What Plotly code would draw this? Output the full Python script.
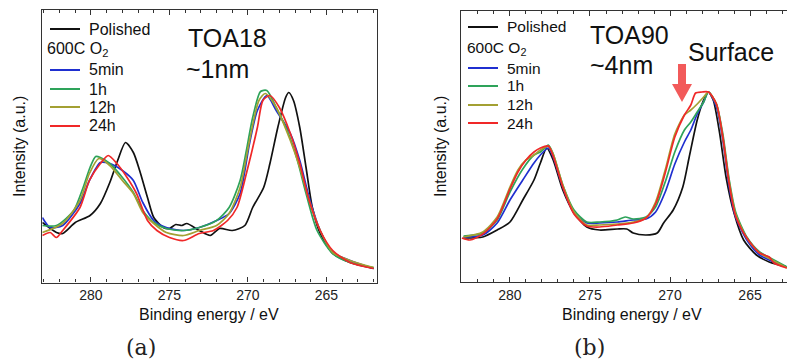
import plotly.graph_objects as go

# ---------------- (a) TOA18 (~1 nm) ----------------
a_pol_e = [283.1, 282.2, 281.8, 281.0, 280.06, 279.4, 278.8, 278.3, 277.8, 277.3, 276.9, 276.4, 276.0,
           275.4, 275.0, 274.6, 274.2, 273.9, 273.1, 272.4, 271.8, 271.0, 270.2, 269.7, 269.0, 268.6,
           268.1, 267.6, 267.4, 267.1, 266.7, 266.3, 265.9, 265.4, 264.6, 263.5, 262.0]
a_pol_i = [60, 50, 49, 60, 67, 79, 100, 122, 140, 130, 112, 85, 65,
           55, 54, 58, 57, 59, 52, 47, 54, 52, 57, 75, 95, 119,
           155, 185, 190, 182, 155, 115, 75, 49, 29, 20, 14]

a_5min_e = [283.1, 282.6, 281.8, 280.7, 280.1, 279.4, 278.8, 278.0, 277.3, 276.7, 276.0, 275.2, 274.1,
            273.1, 272.0, 271.2, 270.5, 269.9, 269.4, 268.8, 268.2, 267.3, 266.7, 266.1, 265.4, 264.6,
            263.5, 262.0]
a_5min_i = [65, 55, 57, 79, 102, 120, 119, 112, 102, 80, 62, 55, 52,
            55, 62, 69, 89, 139, 172, 187, 172, 149, 122, 85, 52, 30,
            22, 14]

a_1h_e = [283.1, 282.2, 281.1, 280.5, 280.06, 279.7, 279.4, 278.8, 278.0, 277.3, 276.7, 276.0, 275.2,
          274.1, 273.1, 272.0, 271.2, 270.5, 270.1, 269.7, 269.2, 268.8, 268.2, 267.5, 266.9, 266.3,
          265.6, 264.6, 263.5, 262.0]
a_1h_i = [57, 57, 72, 95, 115, 126, 125, 119, 105, 90, 72, 60, 54,
          52, 55, 62, 75, 102, 132, 165, 191, 192, 175, 152, 125, 89,
          52, 29, 20, 15]

a_12h_e = [283.1, 281.8, 280.7, 280.1, 279.5, 278.8, 278.0, 277.3, 276.7, 276.0, 275.2, 274.1, 273.1,
           272.0, 271.2, 270.5, 269.9, 269.3, 268.9, 268.2, 267.3, 266.7, 266.1, 265.4, 264.6, 263.5,
           262.0]
a_12h_i = [50, 59, 82, 109, 124, 117, 102, 89, 70, 59, 50, 47, 52,
           57, 69, 95, 142, 182, 189, 175, 142, 115, 82, 52, 30, 22,
           15]

a_24h_e = [283.1, 282.6, 282.2, 281.8, 280.7, 280.1, 279.4, 278.9, 278.35, 277.7, 277.1, 276.4, 275.8,
           275.0, 274.1, 273.1, 272.2, 271.3, 270.7, 270.1, 269.4, 269.05, 268.6, 268.0, 267.3, 266.7,
           266.1, 265.4, 264.6, 263.5, 262.0]
a_24h_i = [47, 50, 45, 52, 75, 102, 119, 127, 119, 105, 89, 62, 52,
           45, 42, 49, 52, 62, 75, 109, 155, 182, 187, 175, 149, 119,
           82, 52, 32, 20, 14]

# ---------------- (b) TOA90 (~4 nm) ----------------
b_pol_e = [282.9, 281.7, 280.8, 280.0, 279.2, 278.5, 278.1, 277.7, 277.3, 276.7, 276.0, 275.2, 274.4,
           273.3, 272.7, 272.3, 271.5, 270.8, 270.4, 269.8, 269.2, 268.8, 268.3, 267.9, 267.6, 267.3,
           266.9, 266.5, 266.0, 265.4, 264.6, 263.8, 262.7]
b_pol_i = [44, 45, 52, 60, 82, 102, 119, 134, 122, 92, 69, 55, 52,
           53, 53, 49, 47, 49, 59, 72, 95, 125, 162, 182, 190, 182,
           149, 105, 69, 42, 27, 20, 15]

b_5min_e = [282.9, 281.7, 280.8, 280.0, 279.2, 278.5, 278.1, 277.6, 277.3, 276.7, 276.0, 275.2, 274.4,
            273.3, 272.3, 271.5, 270.9, 270.3, 269.7, 269.1, 268.7, 268.3, 267.9, 267.6, 267.1, 266.7,
            266.3, 265.9, 265.2, 264.4, 263.5, 262.7]
b_5min_i = [45, 47, 59, 82, 102, 119, 127, 134, 125, 95, 69, 59, 59,
            60, 62, 63, 70, 90, 118, 140, 152, 168, 180, 190, 175, 142,
            95, 65, 42, 27, 20, 15]

b_1h_e = [282.9, 281.7, 280.8, 280.0, 279.2, 278.5, 278.1, 277.6, 277.3, 276.7, 276.0, 275.2, 274.4,
          273.3, 272.8, 272.3, 271.5, 270.9, 270.3, 269.7, 269.1, 268.7, 268.3, 267.9, 267.6, 267.1,
          266.7, 266.3, 265.9, 265.2, 264.4, 263.5, 262.7]
b_1h_i = [46, 49, 62, 90, 113, 127, 130, 137, 128, 97, 72, 60, 60,
          62, 65, 63, 65, 75, 100, 130, 152, 160, 170, 180, 190, 178,
          148, 102, 70, 45, 30, 22, 15]

b_12h_e = [282.9, 281.7, 280.8, 280.0, 279.5, 279.0, 278.5, 278.1, 277.6, 277.3, 276.7, 276.0, 275.2,
           274.4, 273.3, 272.3, 271.5, 270.9, 270.3, 269.7, 269.1, 268.7, 268.3, 267.9, 267.6, 267.1,
           266.7, 266.3, 265.9, 265.2, 264.4, 263.5, 262.7]
b_12h_i = [45, 50, 65, 95, 112, 122, 127, 132, 136, 128, 97, 70, 57,
           57, 58, 60, 64, 80, 112, 148, 167, 172, 178, 185, 190, 178,
           145, 100, 68, 44, 29, 21, 14]

b_24h_e = [283.0, 282.5, 281.7, 280.8, 280.0, 279.5, 279.0, 278.5, 278.1, 277.6, 277.3, 276.7, 276.0,
           275.2, 274.4, 273.3, 272.3, 271.5, 270.9, 270.3, 269.7, 269.1, 268.7, 268.4, 268.0, 267.6,
           267.1, 266.7, 266.3, 265.9, 265.2, 264.4, 263.8, 263.5, 262.7]
b_24h_i = [44, 42, 48, 63, 93, 110, 122, 130, 134, 136, 126, 95, 68,
           56, 55, 57, 59, 64, 78, 109, 145, 167, 177, 189, 190, 190,
           178, 145, 98, 66, 44, 29, 25, 19, 14]

series_names = ["Polished", "5min", "1h", "12h", "24h"]
series_colors = ["#111111", "#1f2fd0", "#2ea35a", "#a3a032", "#f02828"]

panel_a = [(a_pol_e, a_pol_i), (a_5min_e, a_5min_i), (a_1h_e, a_1h_i),
           (a_12h_e, a_12h_i), (a_24h_e, a_24h_i)]
panel_b = [(b_pol_e, b_pol_i), (b_5min_e, b_5min_i), (b_1h_e, b_1h_i),
           (b_12h_e, b_12h_i), (b_24h_e, b_24h_i)]

W, H = 787, 363
FONT = "Liberation Sans, Arial, sans-serif"


def px(x):
    return x / W


def py(y):
    return 1 - y / H


fig = go.Figure()

# draw order: polished first, oxidised spectra on top (red last)
for (e, i), name, col in zip(panel_a, series_names, series_colors):
    fig.add_trace(go.Scatter(x=e, y=i, mode="lines", name=name, showlegend=False,
                             line=dict(color=col, width=1.7, shape="spline", smoothing=0.7),
                             xaxis="x", yaxis="y"))
for (e, i), name, col in zip(panel_b, series_names, series_colors):
    fig.add_trace(go.Scatter(x=e, y=i, mode="lines", name=name, showlegend=False,
                             line=dict(color=col, width=1.7, shape="spline", smoothing=0.7),
                             xaxis="x2", yaxis="y2"))

xaxis_common = dict(
    tickmode="array", tickvals=[280, 275, 270, 265], ticks="inside", ticklen=5,
    tickwidth=1, tickcolor="#333", showline=True, linecolor="#333", linewidth=1.2,
    mirror="allticks", showgrid=False, zeroline=False,
    tickfont=dict(family=FONT, size=14, color="#222"),
    minor=dict(tick0=0, dtick=1, ticks="inside", ticklen=3, tickwidth=1,
               tickcolor="#333", showgrid=False),
)

fig.update_layout(
    width=W, height=H, margin=dict(l=0, r=0, t=0, b=0),
    paper_bgcolor="white", plot_bgcolor="white", showlegend=False,
    xaxis=dict(domain=[px(42.3), px(376.7)], range=[283.1, 261.8], anchor="y", **xaxis_common),
    yaxis=dict(domain=[py(282.5), py(10)], range=[0, 272.5], showticklabels=False, ticks="",
               showline=True, linecolor="#333", linewidth=1.2, mirror=True,
               showgrid=False, zeroline=False, anchor="x"),
    xaxis2=dict(domain=[px(461), 1.0], range=[283.06, 262.69], anchor="y2", **xaxis_common),
    yaxis2=dict(domain=[py(282), py(11)], range=[0, 271], showticklabels=False, ticks="",
                showline=True, linecolor="#333", linewidth=1.2, mirror=False,
                showgrid=False, zeroline=False, anchor="x2"),
)

annotations = []
shapes = []


def text(x, y, s, size, anchor="left", family=FONT, color="#111"):
    annotations.append(dict(x=px(x), y=py(y), xref="paper", yref="paper", text=s,
                            showarrow=False, xanchor=anchor, yanchor="middle",
                            font=dict(family=family, size=size, color=color)))


def legend_block(x_line0, x_line1, x_text, x_head, ys, size):
    # ys: Polished, header, 5min, 1h, 12h, 24h
    labels = ["Polished", None, "5min", "1h", "12h", "24h"]
    colors = [series_colors[0], None] + series_colors[1:]
    for lab, col, y in zip(labels, colors, ys):
        if lab is None:
            text(x_head, y, "600C O<sub>2</sub>", size)
            continue
        shapes.append(dict(type="line", xref="paper", yref="paper",
                           x0=px(x_line0), x1=px(x_line1), y0=py(y), y1=py(y),
                           line=dict(color=col, width=2)))
        text(x_text, y, lab, size)


legend_block(50, 80, 87, 45, [29, 49, 70, 89, 107, 126], 16)
legend_block(468, 498, 505, 465, [27, 48, 68, 86, 105, 123], 15.5)

# sample labels
text(186, 38, "TOA18", 25)
text(184, 69, "~1nm", 25)
text(588, 35, "TOA90", 25)
text(588, 65, "~4nm", 25)
text(686, 52, "Surface", 25)

# downward arrow marking the surface component
ax, top, neck, tip, hw, sw = 682, 64, 84, 102, 10, 4
shapes.append(dict(type="path", xref="paper", yref="paper",
                   path=(f"M {px(ax - sw)},{py(top)} L {px(ax + sw)},{py(top)} "
                         f"L {px(ax + sw)},{py(neck)} L {px(ax + hw)},{py(neck)} "
                         f"L {px(ax)},{py(tip)} L {px(ax - hw)},{py(neck)} "
                         f"L {px(ax - sw)},{py(neck)} Z"),
                   fillcolor="#f25a5a", line=dict(width=0)))

# axis titles
text(209, 314, "Binding energy / eV", 16, anchor="center")
text(632, 314, "Binding energy / eV", 16, anchor="center")
for x in (19, 440):
    annotations.append(dict(x=px(x), y=py(147), xref="paper", yref="paper",
                            text="Intensity (a.u.)", showarrow=False, textangle=-90,
                            xanchor="center", yanchor="middle",
                            font=dict(family=FONT, size=16, color="#111")))

# panel letters
text(141, 347, "(a)", 22, anchor="center", family="DejaVu Serif, serif", color="#222")
text(589, 347, "(b)", 22, anchor="center", family="DejaVu Serif, serif", color="#222")

fig.update_layout(annotations=annotations, shapes=shapes)
fig.write_html("out.html")
